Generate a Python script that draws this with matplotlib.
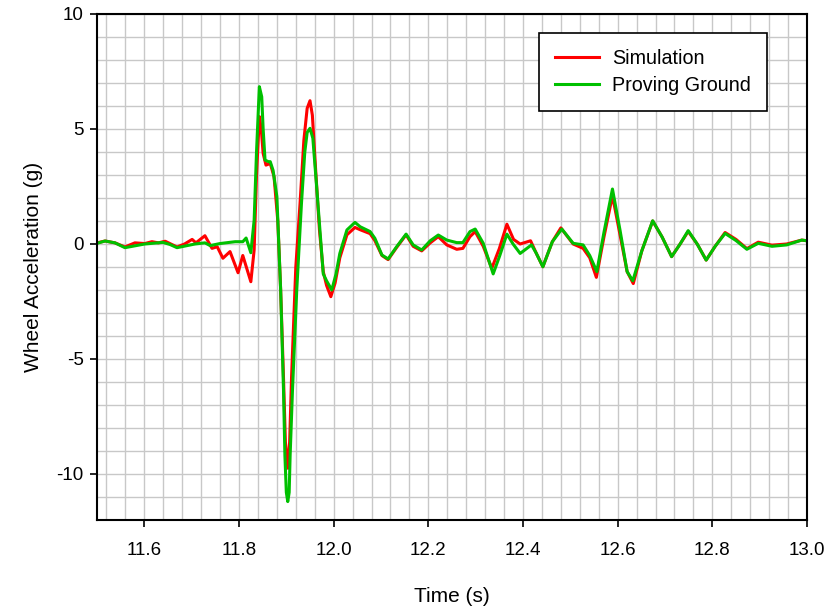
import matplotlib
matplotlib.use("Agg")
import matplotlib.pyplot as plt
from matplotlib.ticker import MultipleLocator

plt.rcParams['font.family'] = ['Liberation Sans', 'DejaVu Sans']
plt.rcParams['axes.unicode_minus'] = False

# simulated wheel acceleration (g) vs time (s)
sim_t = [11.500, 11.517, 11.538, 11.559, 11.580, 11.601, 11.616, 11.630, 11.644,
         11.669, 11.685, 11.701, 11.709, 11.728, 11.743, 11.754, 11.766, 11.781,
         11.798, 11.808, 11.825, 11.832, 11.837, 11.843, 11.847, 11.851, 11.857,
         11.866, 11.874, 11.882, 11.888, 11.894, 11.898, 11.903, 11.907, 11.911,
         11.920, 11.929, 11.937, 11.944, 11.950, 11.955, 11.962, 11.970, 11.978,
         11.985, 11.994, 12.003, 12.013, 12.028, 12.045, 12.056, 12.077, 12.087,
         12.102, 12.115, 12.133, 12.153, 12.168, 12.186, 12.204, 12.221, 12.239,
         12.260, 12.273, 12.288, 12.299, 12.316, 12.334, 12.350, 12.366, 12.380,
         12.394, 12.416, 12.428, 12.442, 12.462, 12.480, 12.506, 12.527, 12.541,
         12.555, 12.571, 12.589, 12.605, 12.620, 12.633, 12.651, 12.674, 12.694,
         12.714, 12.732, 12.749, 12.768, 12.787, 12.806, 12.827, 12.850, 12.873,
         12.897, 12.926, 12.957, 12.989, 13.000]
sim_a = [0.05, 0.13, 0.05, -0.13, 0.05, 0.02, 0.10, 0.05, 0.12,
         -0.13, 0.00, 0.20, 0.05, 0.36, -0.19, -0.12, -0.62, -0.33,
         -1.25, -0.50, -1.64, -0.26, 3.00, 5.54, 5.00, 3.94, 3.43,
         3.50, 2.93, 1.00, -2.00, -5.80, -8.60, -9.75, -8.60, -5.80,
         -1.00, 1.78, 4.50, 5.90, 6.23, 5.60, 3.20, 0.60, -1.20,
         -1.80, -2.29, -1.70, -0.60, 0.40, 0.72, 0.62, 0.45, 0.15,
         -0.50, -0.68, -0.15, 0.40, -0.10, -0.30, 0.05, 0.32, -0.04,
         -0.23, -0.19, 0.32, 0.54, -0.10, -1.06, -0.20, 0.86, 0.20,
         0.00, 0.14, -0.40, -0.99, 0.10, 0.70, 0.00, -0.19, -0.60,
         -1.45, 0.30, 2.10, 0.40, -1.20, -1.72, -0.30, 1.00, 0.30,
         -0.55, 0.00, 0.55, 0.00, -0.70, -0.10, 0.50, 0.20, -0.20,
         0.08, -0.05, 0.00, 0.17, 0.14]

# measured wheel acceleration on the proving ground
pg_t = [11.500, 11.517, 11.538, 11.559, 11.601, 11.639, 11.654, 11.669, 11.707,
        11.728, 11.739, 11.760, 11.792, 11.808, 11.815, 11.825, 11.832, 11.837,
        11.843, 11.848, 11.851, 11.855, 11.862, 11.866, 11.872, 11.880, 11.888,
        11.894, 11.897, 11.900, 11.903, 11.906, 11.908, 11.913, 11.922, 11.932,
        11.939, 11.944, 11.950, 11.956, 11.964, 11.971, 11.978, 11.985, 11.996,
        12.005, 12.013, 12.028, 12.045, 12.056, 12.077, 12.087, 12.102, 12.115,
        12.133, 12.153, 12.168, 12.186, 12.204, 12.221, 12.239, 12.260, 12.273,
        12.288, 12.299, 12.316, 12.337, 12.351, 12.366, 12.379, 12.394, 12.418,
        12.428, 12.442, 12.462, 12.482, 12.506, 12.527, 12.541, 12.556, 12.571,
        12.589, 12.605, 12.620, 12.632, 12.651, 12.674, 12.694, 12.714, 12.732,
        12.749, 12.768, 12.787, 12.806, 12.827, 12.850, 12.873, 12.897, 12.926,
        12.957, 12.989, 13.000]
pg_a = [0.03, 0.13, 0.05, -0.16, 0.00, 0.07, -0.02, -0.16, 0.00,
        0.05, -0.07, 0.02, 0.10, 0.10, 0.26, -0.38, 1.04, 4.00,
        6.84, 6.40, 5.00, 3.65, 3.58, 3.58, 3.20, 2.06, -2.00,
        -6.35, -9.20, -10.80, -11.20, -10.80, -9.20, -6.35, -2.00, 1.78,
        4.00, 4.85, 5.03, 4.60, 2.50, 0.60, -1.30, -1.60, -2.00,
        -1.30, -0.41, 0.61, 0.94, 0.75, 0.54, 0.25, -0.48, -0.65,
        -0.12, 0.43, -0.04, -0.26, 0.14, 0.39, 0.17, 0.06, 0.06,
        0.54, 0.65, 0.03, -1.30, -0.50, 0.43, 0.00, -0.41, -0.04,
        -0.40, -0.99, 0.10, 0.65, 0.03, -0.04, -0.50, -1.20, 0.50,
        2.39, 0.60, -1.20, -1.60, -0.30, 1.01, 0.30, -0.55, 0.00,
        0.58, 0.00, -0.70, -0.10, 0.46, 0.15, -0.23, 0.03, -0.10,
        -0.04, 0.17, 0.14]

fig = plt.figure(figsize=(8.27, 6.14), dpi=100)
ax = fig.add_axes([0.1173, 0.1531, 0.8585, 0.8241])

ax.plot(sim_t, sim_a, color='#ff0000', lw=2.2, label='Simulation', solid_joinstyle='round')
ax.plot(pg_t, pg_a, color='#00c000', lw=2.2, label='Proving Ground', solid_joinstyle='round')

ax.set_xlim(11.5, 13.0)
ax.set_ylim(-12, 10)
ax.xaxis.set_minor_locator(MultipleLocator(0.04))
ax.yaxis.set_minor_locator(MultipleLocator(1))
ax.set_xticks([11.6, 11.8, 12.0, 12.2, 12.4, 12.6, 12.8, 13.0])
ax.set_xticklabels(['11.6', '11.8', '12.0', '12.2', '12.4', '12.6', '12.8', '13.0'])
ax.set_yticks([-10, -5, 0, 5, 10])

ax.grid(which='both', color='#c8c8c8', lw=1.0)
ax.set_axisbelow(True)
ax.tick_params(which='minor', length=0)
ax.tick_params(which='major', direction='out', length=5, width=1.2, labelsize=13.5)
ax.tick_params(axis='x', pad=11)
ax.tick_params(axis='y', pad=4.5)
for s in ax.spines.values():
    s.set_linewidth(1.5)

ax.set_xlabel('Time (s)', fontsize=15, labelpad=20)
ax.set_ylabel('Wheel Acceleration (g)', fontsize=15, labelpad=10)

leg = ax.legend(loc='upper right', bbox_to_anchor=(0.9437, 0.9625), borderaxespad=0,
                fontsize=14.2, fancybox=False, framealpha=1, edgecolor='black',
                handlelength=2.2, handletextpad=0.7, borderpad=0.8, labelspacing=0.42)
leg.get_frame().set_linewidth(1.2)

fig.savefig('out.png', dpi=100)
